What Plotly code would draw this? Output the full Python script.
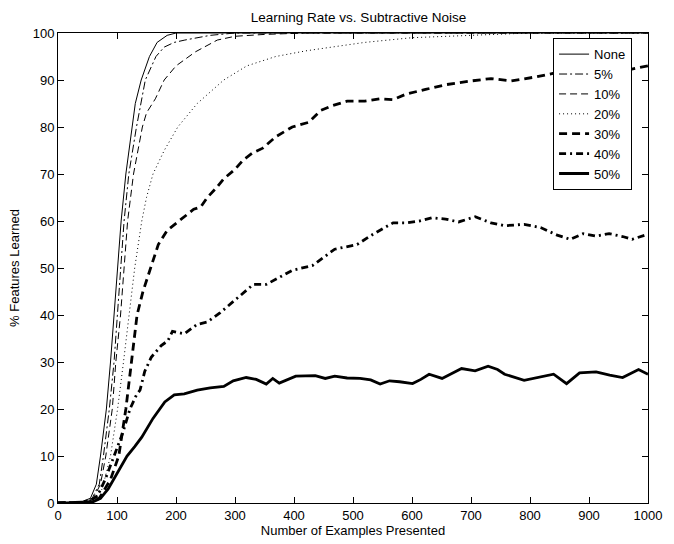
import plotly.graph_objects as go

title = "Learning Rate vs. Subtractive Noise"
x_label = "Number of Examples Presented"
y_label = "% Features Learned"

names = ["None", "5%", "10%", "20%", "30%", "40%", "50%"]

none_x = [0, 40, 55, 65, 72, 82, 89, 95, 100, 107, 115, 125, 131, 141, 155, 168, 185, 200, 1000]
none_y = [0, 0.3, 1, 4, 10, 20, 30, 40, 50, 60, 70, 80, 85, 90, 95, 98, 99.5, 100, 100]

p5_x = [0, 42, 58, 70, 77, 87, 95, 101, 106, 112, 120, 133, 148, 166, 180, 197, 215, 235, 258, 300, 1000]
p5_y = [0, 0.3, 1, 4, 10, 20, 30, 40, 50, 60, 70, 80, 90, 95, 97, 98, 98.5, 99, 99.5, 100, 100]

p10_x = [0, 44, 60, 72, 81, 92, 98, 106, 112, 118, 128, 143, 150, 165, 180, 200, 233, 270, 300, 350, 420, 1000]
p10_y = [0, 0.3, 1, 4, 10, 20, 30, 40, 50, 60, 70, 80, 83, 86, 90, 93, 96, 98.5, 99.3, 99.7, 100, 100]

p20_x = [0, 46, 62, 75, 89, 101, 111, 120, 130, 142, 150, 161, 180, 203, 236, 281, 320, 369, 420, 464, 520, 600, 700, 800, 1000]
p20_y = [0, 0.3, 1, 3, 10, 20, 30, 40, 50, 60, 65, 70, 75, 80, 85, 90, 93, 95, 96.2, 97, 98, 99, 99.5, 100, 100]

p30_x = [0, 50, 60, 70, 89, 103, 115, 125, 134, 144, 157, 170, 185, 205, 230, 242, 253, 268, 281, 300, 314, 330, 347, 370, 397, 425, 445, 464, 490,
         520, 546, 568, 590, 623, 657, 700, 734, 768, 812, 846, 880, 930, 960, 1000]
p30_y = [0, 0.2, 0.5, 1, 5, 10, 20, 30, 40, 45, 50, 55, 58, 60, 62.5, 63, 65, 67, 69, 71, 73, 74.5, 75.5, 78, 80, 81, 83.5, 84.5, 85.5,
         85.5, 86, 85.8, 87, 88, 89, 89.8, 90.3, 89.8, 90.7, 91.6, 92, 92.5, 92, 93]

p40_x = [0, 45, 55, 67, 80, 95, 110, 122, 133, 139, 147, 158, 175, 186, 194, 214, 236, 253, 275, 303, 331, 353, 375, 397, 431, 453, 469,
         507, 529, 551, 568, 590, 612, 634, 657, 679, 707, 734, 757, 790, 818, 846, 868, 890, 912, 934, 957, 973, 1000]
p40_y = [0, 0.2, 0.5, 1.5, 5, 10, 15, 20, 23, 24, 28, 31, 33.5, 34.5, 36.5, 36, 38, 38.5, 40.5, 43.5, 46.5, 46.5, 48, 49.5, 50.5, 52.5, 54,
         55, 56.8, 58.4, 59.6, 59.6, 60, 60.7, 60.4, 59.8, 60.9, 59.6, 59, 59.3, 58.6, 57, 56.1, 57.3, 56.8, 57.3, 56.7, 56.1, 57.2]

p50_x = [0, 45, 60, 72, 85, 94, 105, 117, 130, 142, 161, 181, 197, 214, 236, 258, 281, 297, 319, 336, 353, 364, 375, 403, 436, 453, 469,
         490, 512, 530, 546, 562, 579, 601, 615, 629, 651, 668, 684, 707, 729, 745, 757, 790, 823, 840, 862, 884, 912, 935, 957, 984, 1000]
p50_y = [0, 0.1, 0.3, 1, 3, 5, 7.5, 10, 12, 14, 18, 21.5, 23, 23.2, 24, 24.5, 24.8, 26, 26.7, 26.3, 25.3, 26.5, 25.5, 27, 27.1, 26.5, 27,
         26.6, 26.5, 26.2, 25.3, 26, 25.8, 25.4, 26.3, 27.4, 26.5, 27.6, 28.6, 28.1, 29.1, 28.4, 27.4, 26.1, 27, 27.4, 25.4, 27.7, 27.9, 27.2, 26.7, 28.4, 27.4]

series_x = [none_x, p5_x, p10_x, p20_x, p30_x, p40_x, p50_x]
series_y = [none_y, p5_y, p10_y, p20_y, p30_y, p40_y, p50_y]
widths = [1, 1, 1, 1, 2.8, 2.8, 2.8]
dashes = ["solid", "8px,3px,2px,3px", "7px,4px", "1px,3px", "8px,5px", "7px,4px,2px,4px", "solid"]

fig = go.Figure()
for n, xs, ys, w, d in zip(names, series_x, series_y, widths, dashes):
    fig.add_trace(go.Scatter(x=xs, y=ys, mode="lines", name=n,
                             line=dict(color="black", width=w, dash=d)))

font = "Liberation Sans, Arial, sans-serif"
fig.update_layout(
    width=674, height=544,
    margin=dict(l=58, r=15, t=33, b=38),
    paper_bgcolor="white", plot_bgcolor="white",
    font=dict(family=font, size=13, color="black"),
    title=dict(text=title, x=(58 + 659) / 2 / 674, xanchor="center",
               y=1 - 17 / 544, yanchor="middle", font=dict(size=13.5)),
    showlegend=True,
    legend=dict(x=0.973, xanchor="right", y=0.989, yanchor="top",
                bordercolor="black", borderwidth=1, bgcolor="white",
                font=dict(size=13), tracegroupgap=0, itemwidth=30),
)
fig.update_xaxes(range=[0, 1000], tickvals=list(range(0, 1001, 100)),
                 showgrid=False, zeroline=False, showline=True, linecolor="black",
                 linewidth=1, mirror="ticks", ticks="inside", ticklen=6,
                 tickcolor="black",
                 title=dict(text=x_label, standoff=0, font=dict(size=13)))
fig.update_yaxes(range=[0, 100], tickvals=list(range(0, 101, 10)),
                 showgrid=False, zeroline=False, showline=True, linecolor="black",
                 linewidth=1, mirror="ticks", ticks="inside", ticklen=6,
                 tickcolor="black",
                 title=dict(text=y_label, standoff=10, font=dict(size=13)))

fig.write_html("out.html")
